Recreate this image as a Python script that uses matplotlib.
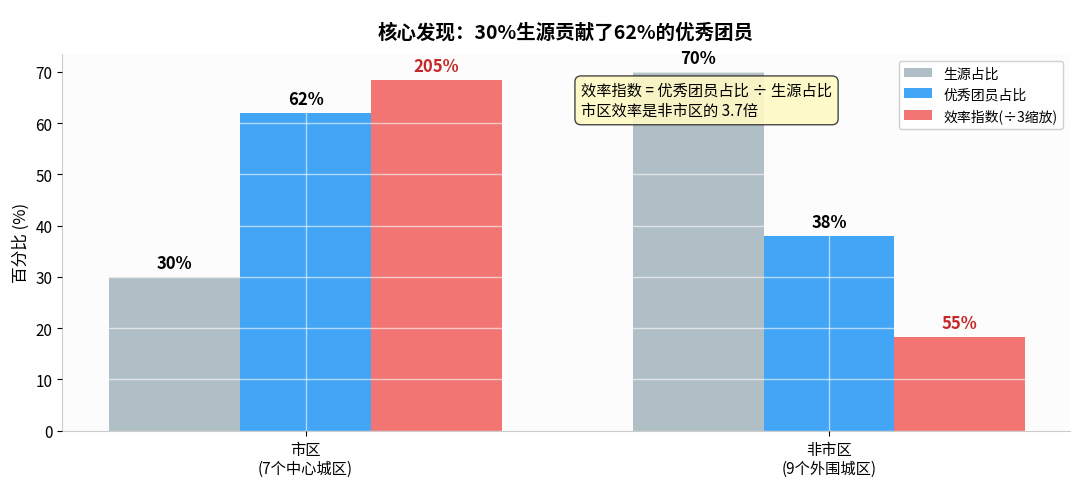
import matplotlib
matplotlib.use("Agg")
import matplotlib.pyplot as plt
import numpy as np

plt.rcParams['font.family'] = ['Noto Sans CJK SC', 'DejaVu Sans']

categories = ['市区\n(7个中心城区)', '非市区\n(9个外围城区)']
source_share = [30, 70]
excellent_share = [62, 38]
efficiency = [205, 55]
eff_scaled = [e / 3 for e in efficiency]

fig = plt.figure(figsize=(10.8, 4.89), dpi=100)
ax = fig.add_axes([0.0575, 0.117, 0.933, 0.771])
ax.set_facecolor('#fcfcfc')
x = np.arange(len(categories))
w = 0.25
b1 = ax.bar(x - w, source_share, w, color='#b0bec5', label='生源占比')
b2 = ax.bar(x, excellent_share, w, color='#42a5f5', label='优秀团员占比')
b3 = ax.bar(x + w, eff_scaled, w, color='#f27573', label='效率指数(÷3缩放)')

for bars, vals, col in [(b1, source_share, 'black'), (b2, excellent_share, 'black'), (b3, efficiency, '#c62828')]:
    for r, v in zip(bars, vals):
        ax.text(r.get_x() + r.get_width() / 2, r.get_height() + 1, f'{v}%',
                ha='center', va='bottom', fontsize=12, fontweight='bold', color=col)

ax.set_xlim(-0.465, 1.46)
ax.set_ylim(0, 73.5)
ax.set_xticks(x)
ax.set_xticklabels(categories, fontsize=11)
ax.set_ylabel('百分比 (%)', fontsize=12)
ax.tick_params(axis='y', labelsize=11)
ax.grid(True, color='white', alpha=0.6, linewidth=1)
ax.set_axisbelow(False)
for s in ['top', 'right']:
    ax.spines[s].set_visible(False)
for s in ['left', 'bottom']:
    ax.spines[s].set_color('#cccccc')
ax.set_title('核心发现：30%生源贡献了62%的优秀团员', fontsize=14, fontweight='bold', pad=12)

ax.legend(loc='upper right', fontsize=10, framealpha=0.9)
ax.text(0.515, 0.925, '效率指数 = 优秀团员占比 ÷ 生源占比\n市区效率是非市区的 3.7倍',
        transform=ax.transAxes, fontsize=11, va='top', ha='left',
        bbox=dict(boxstyle='round,pad=0.4', facecolor='#fff9c4', edgecolor='#333333', alpha=0.9))

fig.savefig('out.png', dpi=100)
